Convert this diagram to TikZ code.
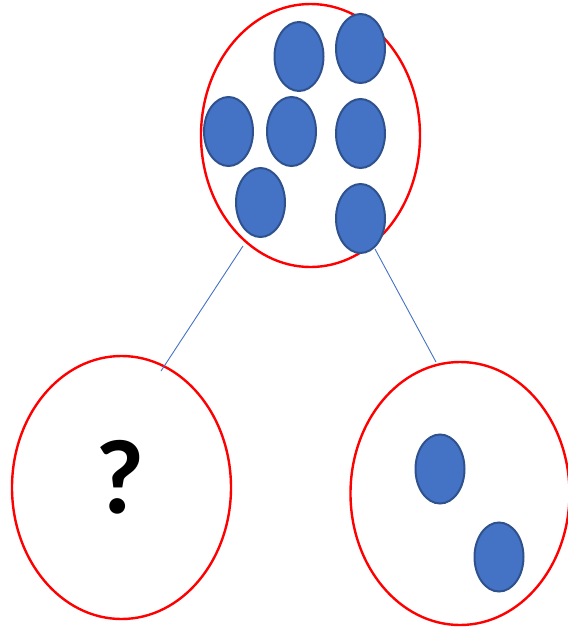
\documentclass[tikz,border=0pt]{standalone}
\usepackage{tikz}
\usepackage{fontspec}
\usetikzlibrary{shapes.geometric}
\newfontfamily\qfont{Carlito}
\definecolor{setred}{HTML}{FF0000}
\definecolor{dotblue}{HTML}{4472C4}
\definecolor{dotedge}{HTML}{2F528F}

\begin{document}
\begin{tikzpicture}
[x=1pt,y=-1pt,
 set/.style={draw=setred,line width=2.4pt,ellipse,minimum width=219pt,minimum height=263pt,inner sep=0pt},
 dot/.style={draw=dotedge,fill=dotblue,line width=2pt,ellipse,minimum width=49pt,minimum height=69pt,inner sep=0pt},
 link/.style={draw=dotblue,line width=0.9pt},]

\useasboundingbox (0,0) rectangle (568,630);

%Sets
\node (whole) at (310.5,135.5)[set] {};
\node (left) at (121.5,487.5)[set] {};
\node (right) at (460,493.5)[set] {};

%Dots in the whole
\node (w1) at (299,56.5)[dot] {};
\node (w2) at (360.5,48.5)[dot] {};
\node (w3) at (228.5,131.5)[dot] {};
\node (w4) at (291.5,131.5)[dot] {};
\node (w5) at (360.5,133.5)[dot] {};
\node (w6) at (260.5,202.5)[dot] {};
\node (w7) at (360.5,218.5)[dot] {};

%Dots in the right part
\node (r1) at (440,469)[dot] {};
\node (r2) at (499,557)[dot] {};

%Unknown part
\node (ask) at (120,477) {\qfont\bfseries\fontsize{106}{106}\selectfont ?};

%Links
\coordinate (wl) at (243,246);
\coordinate (wr) at (375,249);
\coordinate (lt) at (161,371);
\coordinate (rt) at (436,362);
\draw[link] (wl) -- (lt);
\draw[link] (wr) -- (rt);

\end{tikzpicture}
\end{document}
